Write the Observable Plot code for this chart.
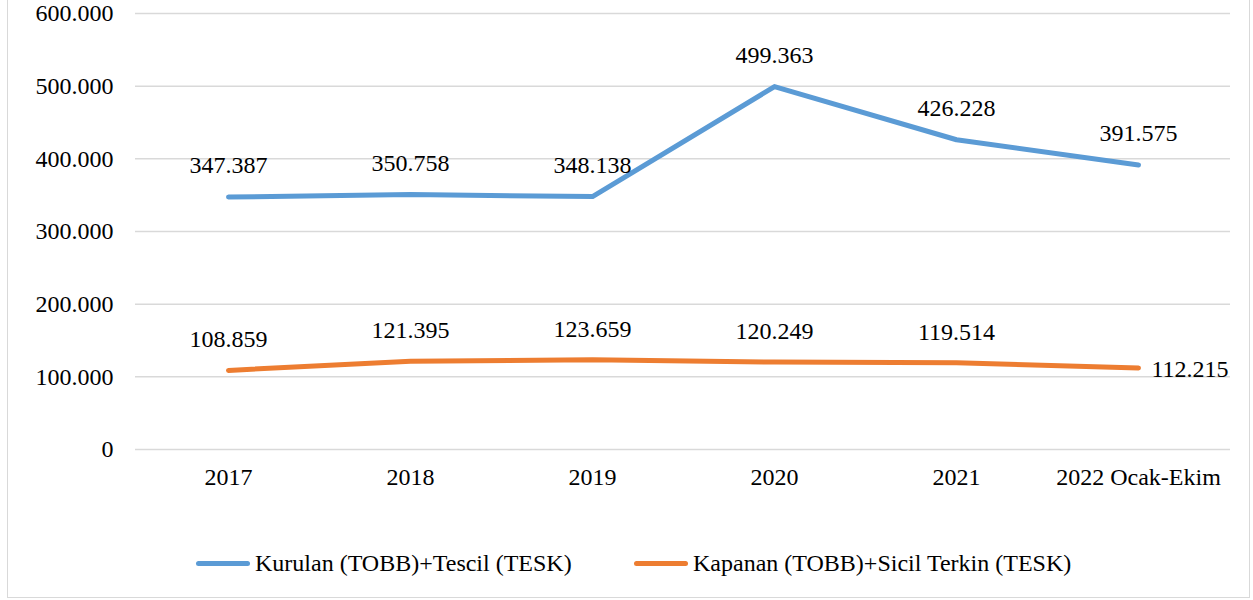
<!DOCTYPE html>
<html>
<head>
<meta charset="utf-8">
<script src="https://cdn.jsdelivr.net/npm/d3@7"></script>
<script src="https://cdn.jsdelivr.net/npm/@observablehq/plot@0.6"></script>
<style>
  html, body { margin: 0; padding: 0; background: #fff; }
  #wrap { position: relative; width: 1253px; height: 600px; overflow: hidden; font-family: "Liberation Serif", "Times New Roman", serif; }
  #frame { position: absolute; left: 7px; top: -2px; width: 1243px; height: 600px; border: 1.5px solid #d9d9d9; box-sizing: border-box; pointer-events: none; }
  #chart { position: absolute; left: 0; top: 0; }
  #legend { position: absolute; left: 0; top: 548px; width: 1253px; height: 30px; font-size: 24px; color: #000; }
  .item { position: absolute; top: 0; display: flex; align-items: center; height: 30px; }
  .swatch { width: 54px; height: 5px; border-radius: 3px; margin-right: 5px; }
</style>
</head>
<body>
<div id="wrap">
  <div id="chart"></div>
  <div id="legend"></div>
  <div id="frame"></div>
</div>
<script>
const categories = ["2017", "2018", "2019", "2020", "2021", "2022 Ocak-Ekim"];
const kurulan = [347387, 350758, 348138, 499363, 426228, 391575];
const kapanan = [108859, 121395, 123659, 120249, 119514, 112215];
const seriesNames = ["Kurulan (TOBB)+Tescil (TESK)", "Kapanan (TOBB)+Sicil Terkin (TESK)"];
const seriesColors = ["#5b9bd5", "#ed7d31"];
const yTicks = [0, 100000, 200000, 300000, 400000, 500000, 600000];

const fmt = v => d3.format(",")(v).replace(/,/g, ".");

const rows = [];
categories.forEach((c, i) => {
  rows.push({cat: c, value: kurulan[i], series: seriesNames[0]});
  rows.push({cat: c, value: kapanan[i], series: seriesNames[1]});
});
const blue = rows.filter(d => d.series === seriesNames[0]);
const orange = rows.filter(d => d.series === seriesNames[1]);
const lastCat = categories[categories.length - 1];

const fontSize = "24px";
const fontFamily = '"Liberation Serif", "Times New Roman", serif';
const chart = Plot.plot({
  width: 1253,
  height: 500,
  marginTop: 13,
  marginBottom: 51,
  marginLeft: 135,
  marginRight: 23,
  style: { fontFamily, fontSize, color: "#000", background: "transparent" },
  x: { type: "point", domain: categories, padding: 0.5, label: null },
  y: { domain: [0, 600000], label: null },
  color: { domain: seriesNames, range: seriesColors },
  marks: [
    Plot.ruleY(yTicks, { stroke: "#d9d9d9", strokeWidth: 1.5 }),
    Plot.axisY({ ticks: yTicks, tickFormat: fmt, tickSize: 0, tickPadding: 22, fontSize, fontFamily, label: null }),
    Plot.axisX({ tickSize: 0, tickPadding: 18, fontSize, fontFamily, label: null }),
    Plot.line(rows, { x: "cat", y: "value", z: "series", stroke: "series", strokeWidth: 5, strokeLinecap: "round", strokeLinejoin: "round" }),
    Plot.text(blue, { x: "cat", y: "value", text: d => fmt(d.value), lineAnchor: "bottom", dy: -24, fill: "#000", fontSize, fontFamily }),
    Plot.text(orange.filter(d => d.cat !== lastCat), { x: "cat", y: "value", text: d => fmt(d.value), lineAnchor: "bottom", dy: -23, fill: "#000", fontSize, fontFamily }),
    Plot.text(orange.filter(d => d.cat === lastCat), { x: "cat", y: "value", text: d => fmt(d.value), textAnchor: "start", lineAnchor: "middle", dx: 13, dy: 1, fill: "#000", fontSize, fontFamily })
  ]
});
document.getElementById("chart").appendChild(chart);

const legend = document.getElementById("legend");
const lefts = [196, 634];
seriesNames.forEach((name, i) => {
  const item = document.createElement("div");
  item.className = "item";
  item.style.left = lefts[i] + "px";
  const sw = document.createElement("div");
  sw.className = "swatch";
  sw.style.background = seriesColors[i];
  const label = document.createElement("span");
  label.textContent = name;
  item.appendChild(sw);
  item.appendChild(label);
  legend.appendChild(item);
});
</script>
</body>
</html>
